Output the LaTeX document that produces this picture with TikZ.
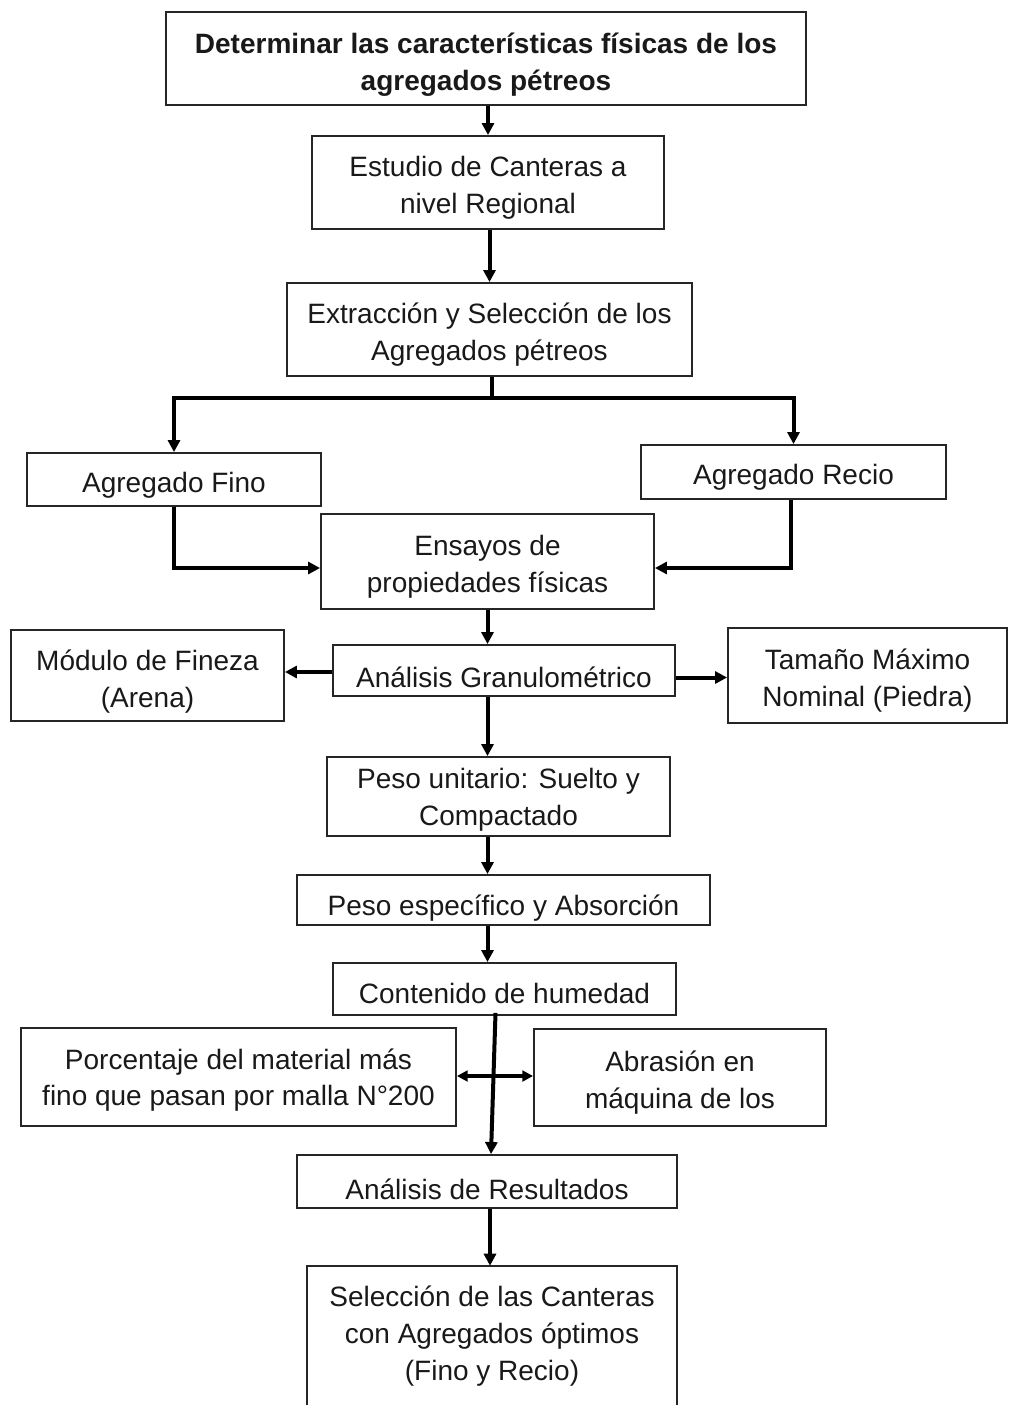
\documentclass[tikz,border=0pt]{standalone}
\usepackage{fontspec}
\setmainfont{Liberation Sans}
\usetikzlibrary{arrows.meta,calc}
% a framed step: frame node #1 centred at (#2,#3), size #4 x #5,
% its text set #6 px below the centre
\newcommand\stepnode[7]{%
  \node[box, wh={#4}{#5}] (#1) at (#2,#3) {};
  \node[txt] (#1-t) at ($(#1.center)+(0,#6)$) {#7};}
\begin{document}
\begin{tikzpicture}[x=0.75pt,y=-0.75pt,
  box/.style={draw=black!85, line width=1.4pt, inner sep=0pt},
  txt/.style={inner sep=0pt, align=center, text=black!90,
    font=\fontsize{21}{27.5}\selectfont},
  wh/.style 2 args={minimum width={#1*0.75pt}, minimum height={#2*0.75pt}},
  tip/.style={Triangle[length=9pt,width=9pt]},
  conn/.style={line width=3pt, -{Triangle[length=9pt,width=9pt]}},
  bar/.style={line width=3pt},
  boxline/.style={draw=black!85, line width=1.4pt}]
\clip (0,0) rectangle (1009,1405);

% process steps
\stepnode{top}{486}{58.5}{640}{93}{6}
  {\textbf{Determinar las características físicas de los}\\\textbf{agregados pétreos}}
\stepnode{est}{488}{182.5}{352}{93}{5.5}{Estudio de Canteras a\\nivel Regional}
\stepnode{ext}{489.5}{329.5}{405}{93}{5}{Extracción y Selección de los\\Agregados pétreos}
\stepnode{fino}{174}{479.5}{294}{53}{6}{Agregado Fino}
\stepnode{recio}{793.5}{472}{305}{54}{5.5}{Agregado Recio}
\stepnode{ens}{487.5}{561.5}{333}{95}{5.5}{Ensayos de\\propiedades físicas}
\stepnode{mod}{147.5}{675.5}{273}{91}{6}{Módulo de Fineza\\(Arena)}
\stepnode{gran}{504}{670.5}{342}{51}{7}{Análisis Granulométrico}
\stepnode{tam}{867.5}{675.5}{279}{95}{5}{Tamaño Máximo\\Nominal (Piedra)}
\stepnode{pu}{498.5}{796.5}{343}{79}{3}{Peso unitario: Suelto y\\Compactado}
\stepnode{pe}{503.5}{900}{413}{50}{8}{Peso específico y Absorción}
\stepnode{cont}{504.5}{989}{343}{52}{4}{Contenido de humedad}
\stepnode{por}{238.5}{1077}{435}{98}{3}{Porcentaje del material más\\fino que pasan por malla N°200}
\stepnode{abr}{680}{1077.5}{292}{97}{5}{Abrasión en\\máquina de los}
\stepnode{res}{487}{1181.5}{380}{53}{8}{Análisis de Resultados}
% last step runs off the lower edge: frame without a bottom side
\node[wh={370}{134}, inner sep=0pt] (sel) at (492,1333) {};
\node[txt] (sel-t) at ($(sel.center)+(0,3)$)
  {Selección de las Canteras\\con Agregados óptimos\\(Fino y Recio)};
\draw[boxline] ($(sel.south west)+(0,40)$) -- (sel.north west) -- (sel.north east)
  -- ($(sel.south east)+(0,40)$);

% connectors
\draw[conn] (top.south -| est.north) -- (est.north);
\draw[conn] (est.south -| ext.north) -- (ext.north);
\coordinate (split) at (492,398);
\draw[bar] (ext.south -| split) -- (split);
\draw[conn] (split) -| (fino.north);
\draw[conn] (split) -| (recio.north);
\draw[conn] (fino.south) |- ($(ens.west)+(0,6.5)$);
\draw[conn] ($(recio.south)+(-3,0)$) |- ($(ens.east)+(0,6.5)$);
\draw[conn] (ens.south) -- (ens.south |- gran.north);
\draw[conn] ($(gran.west)+(0,1.5)$) coordinate (gw) -- (gw -| mod.east);
\coordinate (ge) at ($(gran.east)+(0,7)$);
\draw[conn] (ge) -- (ge -| tam.west);
\draw[conn] (gran.south -| ens.south) -- (pu.north -| ens.south);
\draw[conn] (pu.south -| ens.south) -- (pe.north -| ens.south);
\draw[conn] (pe.south -| ens.south) -- (cont.north -| ens.south);
\draw[conn] ($(cont.south)+(-9,-3)$) -- ($(res.north)+(4,0)$);
\draw[line width=2.6pt, {Triangle[length=8pt,width=8pt]}-{Triangle[length=8pt,width=8pt]}]
  ($(por.east)+(0,-1)$) -- ($(abr.west)+(0,-1.5)$);
\draw[conn] ($(res.south)+(3,0)$) -- ($(sel.north)+(-2,0)$);
\end{tikzpicture}
\end{document}
